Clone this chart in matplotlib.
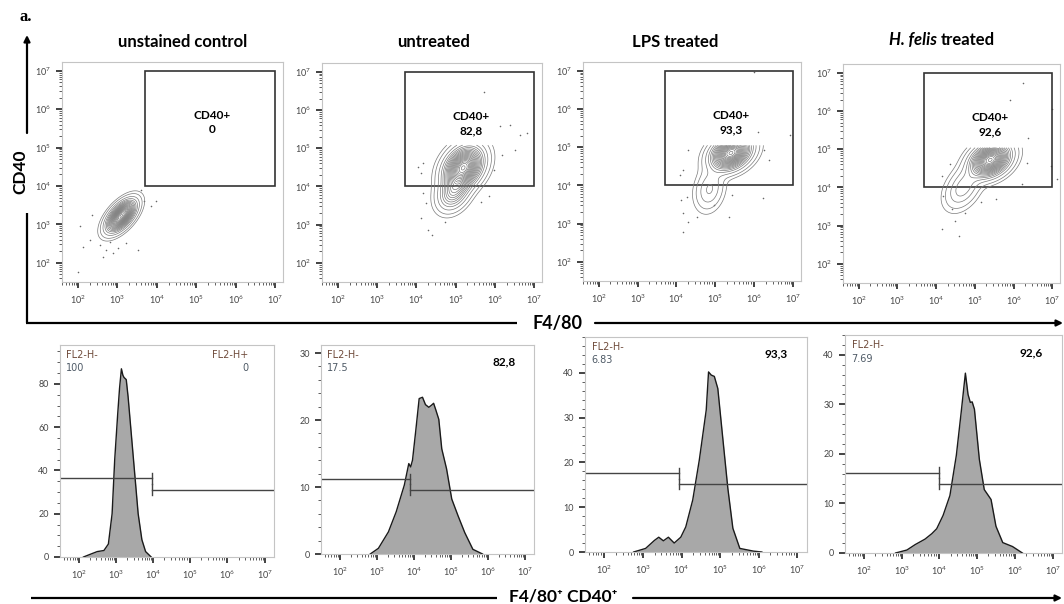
import numpy as np
import matplotlib
matplotlib.use('Agg')
import matplotlib.pyplot as plt
from matplotlib.ticker import LogLocator, MultipleLocator, NullFormatter, LogFormatterMathtext
from matplotlib.patches import Rectangle

plt.rcParams['font.family'] = ['Lato', 'DejaVu Sans']

# ---- data ----
titles = ['unstained control', 'untreated', 'LPS treated', 'H. felis treated']
cd40_pct = ['0', '82,8', '93,3', '92,6']
neg_pct = ['100', '17.5', '6.83', '7.69']

# CD40+ gate on the dot plots (log10 units)
gate_x = [3.7, 7.0]
gate_y = [4.0, 7.0]

# contour populations: (log x, log y, sd x, sd y, rho, weight)
pop_unstained = [(3.1, 3.22, 0.2, 0.22, 0.6, 1.0)]
pop_untreated = [(5.2, 4.5, 0.27, 0.3, 0.3, 1.0), (4.95, 3.85, 0.22, 0.26, 0.3, 0.35)]
pop_lps = [(5.4, 4.85, 0.28, 0.24, 0.3, 1.0), (4.85, 3.9, 0.2, 0.3, 0.2, 0.13)]
pop_felis = [(5.4, 4.72, 0.28, 0.24, 0.3, 1.0), (4.7, 4.0, 0.25, 0.3, 0.4, 0.16)]
pops = [pop_unstained, pop_untreated, pop_lps, pop_felis]
top_cut = [7.2, 5.08, 5.05, 5.04]

# outlying events (log10 x, log10 y)
dots_x = [
    [2.01, 2.05, 2.30, 2.13, 2.64, 2.72, 2.89, 3.02, 3.52, 3.99, 3.86, 3.61, 2.35, 2.56, 2.81, 3.23, 3.69],
    [5.73, 6.12, 6.38, 6.64, 6.82, 6.51, 6.17, 5.99, 4.17, 4.13, 4.17, 4.26, 4.13, 4.30, 4.39, 4.73, 5.86, 5.65, 4.04],
    [6.0, 6.92, 6.39, 6.26, 6.22, 4.31, 4.18, 4.09, 4.26, 4.13, 4.18, 4.31, 4.18, 4.52, 5.35, 5.43, 4.96, 6.09],
    [6.25, 5.9, 7.0, 6.38, 6.34, 6.21, 7.13, 6.96, 4.37, 4.15, 4.19, 4.15, 4.59, 4.41, 4.76, 5.16, 5.55, 4.5],
]
dots_y = [
    [1.77, 2.95, 2.6, 2.42, 2.16, 2.34, 2.25, 2.38, 2.34, 3.6, 3.47, 3.9, 3.25, 2.47, 2.55, 2.51, 3.6],
    [6.48, 5.57, 5.61, 5.35, 5.4, 4.96, 4.83, 4.43, 4.61, 4.35, 3.82, 3.56, 3.17, 2.86, 2.73, 3.08, 3.74, 3.6, 4.52],
    [6.96, 5.32, 4.66, 4.92, 3.66, 4.92, 4.4, 4.27, 3.7, 3.62, 3.27, 3.05, 2.79, 3.18, 3.18, 3.75, 3.48, 5.4],
    [6.72, 6.3, 6.04, 5.3, 4.65, 4.08, 4.21, 4.56, 4.61, 4.3, 3.78, 2.91, 2.73, 3.43, 3.34, 3.61, 3.69, 3.13],
]

# histograms (log10 F4/80, % of max)
hist_lx = [
    [2.13, 2.35, 2.5, 2.68, 2.8, 2.9, 2.97, 3.05, 3.1, 3.15, 3.19, 3.22, 3.28, 3.33, 3.4, 3.5, 3.6, 3.7, 3.8, 3.95],
    [2.83, 3.05, 3.32, 3.53, 3.75, 3.87, 3.92, 3.97, 4.06, 4.15, 4.24, 4.32, 4.41, 4.48, 4.54, 4.6, 4.68, 4.76,
     4.89, 5.03, 5.2, 5.38, 5.6, 5.86],
    [2.76, 3.07, 3.3, 3.41, 3.53, 3.66, 3.81, 3.98, 4.11, 4.29, 4.46, 4.64, 4.70, 4.77, 4.85, 4.94, 5.07, 5.2,
     5.33, 5.51, 5.86, 6.08],
    [2.84, 3.14, 3.36, 3.62, 3.8, 3.93, 4.1, 4.28, 4.45, 4.58, 4.69, 4.76, 4.82, 4.87, 4.93, 5.06, 5.19, 5.37,
     5.5, 5.68, 5.94, 6.2],
]
hist_y = [
    [0, 1.5, 2.5, 3, 6, 20, 45, 66, 78, 87, 84, 83, 82, 74, 60, 40, 20, 8, 2.5, 0],
    [0, 0.85, 3.3, 6.3, 10.3, 13.5, 13, 14, 18.5, 23.2, 23.4, 22.3, 21.9, 22.2, 22.5, 21.5, 20.1, 15.7,
     12.7, 8.2, 5.7, 3.2, 0.7, 0],
    [0, 0.8, 2.6, 3.3, 2.5, 3.3, 2.0, 3.3, 5.6, 11.6, 20.5, 31.7, 40.2, 39.5, 39.2, 36.5, 25.3, 14.2,
     5.3, 0.8, 0.2, 0],
    [0, 0.6, 1.7, 2.8, 3.9, 4.9, 7.6, 11.6, 19.7, 28.5, 36.3, 32.0, 30.4, 30.5, 29.0, 18.9, 12.8, 10.8,
     5.4, 2.1, 1.3, 0],
]
hist_ymax = [98, 31.2, 48, 44]
hist_ymajor = [20, 10, 10, 10]
hist_gate_x = [3.97, 3.9, 3.94, 4.0]
hist_gate_left = [36.3, 11.2, 17.6, 16.2]
hist_gate_right = [31.2, 9.6, 15.2, 14.0]

# ---- layout ----
W, H = 1064, 604
fig = plt.figure(figsize=(W / 100, H / 100), dpi=100)


def box(l, t, r, b):
    return [l / W, 1 - b / H, (r - l) / W, (b - t) / H]


top_boxes = [(62, 62, 283, 282), (322, 63, 542, 282), (583, 62, 801, 281), (843, 64, 1060, 283)]
bot_boxes = [(60, 345, 274, 557), (321, 345, 534, 554), (585, 337, 807, 552), (845, 335, 1062, 553)]
frame_col = '#c4c4c4'


def style_log_axis(axis):
    axis.set_major_locator(LogLocator(base=10, numticks=12))
    axis.set_minor_locator(LogLocator(base=10, subs=np.arange(2, 10), numticks=12))
    axis.set_minor_formatter(NullFormatter())
    axis.set_major_formatter(LogFormatterMathtext())


for i in range(4):
    # ---- dot plot with contours ----
    ax = fig.add_axes(box(*top_boxes[i]))
    ax.set_xscale('log')
    ax.set_yscale('log')
    gx = np.linspace(1.6, 7.2, 320)
    gy = np.linspace(1.5, top_cut[i], 320)
    X, Y = np.meshgrid(gx, gy)
    Z = np.zeros_like(X)
    for (cx, cy, sx, sy, r, w) in pops[i]:
        u = (X - cx) / sx
        v = (Y - cy) / sy
        Z += w * np.exp(-(u * u - 2 * r * u * v + v * v) / (2 * (1 - r * r)))
    Z /= Z.max()
    levels = np.concatenate([[0.012, 0.03], np.linspace(0.07, 0.985, 19)])
    ax.contour(10 ** X, 10 ** Y, Z, levels=levels, colors='#7a7a7a', linewidths=0.5)
    ax.scatter(10 ** np.array(dots_x[i]), 10 ** np.array(dots_y[i]), s=1.3, color='#666666', lw=0)
    ax.add_patch(Rectangle((10 ** gate_x[0], 10 ** gate_y[0]),
                           10 ** gate_x[1] - 10 ** gate_x[0], 10 ** gate_y[1] - 10 ** gate_y[0],
                           fill=False, edgecolor='#333333', lw=1.2))
    ax.text(10 ** 5.4, 10 ** 5.65, 'CD40+\n' + cd40_pct[i], ha='center', va='center',
            fontsize=8.5, fontweight='bold', linespacing=1.4)
    ax.set_xlim(10 ** 1.6, 10 ** 7.2)
    ax.set_ylim(10 ** 1.5, 10 ** 7.23)
    style_log_axis(ax.xaxis)
    style_log_axis(ax.yaxis)
    ax.tick_params(which='major', length=4, width=1.2, color='#222222', labelsize=6.5,
                   labelcolor='#444444', pad=4)
    ax.tick_params(which='minor', length=2, width=0.6, color='#444444')
    for s in ax.spines.values():
        s.set_color(frame_col)
        s.set_linewidth(0.8)

    # ---- histogram ----
    hx = fig.add_axes(box(*bot_boxes[i]))
    hx.set_xscale('log')
    xs = 10 ** np.array(hist_lx[i])
    ys = np.array(hist_y[i])
    hx.fill_between(xs, ys, color='#a8a8a8', lw=0)
    hx.plot(xs, ys, color='#1a1a1a', lw=1)
    ym = hist_ymax[i]
    cap = ym * 0.025
    g = 10 ** hist_gate_x[i]
    hx.plot([10 ** 1.5, g], [hist_gate_left[i]] * 2, color='#444444', lw=1)
    hx.plot([g, g], [hist_gate_left[i] - cap, hist_gate_left[i] + cap], color='#444444', lw=1)
    hx.plot([g, 10 ** 7.3], [hist_gate_right[i]] * 2, color='#444444', lw=1)
    hx.plot([g, g], [hist_gate_right[i] - cap, hist_gate_right[i] + cap], color='#444444', lw=1)
    hx.text(0.03, 0.975, 'FL2-H-', transform=hx.transAxes, ha='left', va='top',
            fontsize=7, color='#6e4a3a', family=['DejaVu Sans'])
    hx.text(0.03, 0.915, neg_pct[i], transform=hx.transAxes, ha='left', va='top',
            fontsize=7, color='#4e5a66', family=['DejaVu Sans'])
    if i == 0:
        hx.text(0.88, 0.975, 'FL2-H+', transform=hx.transAxes, ha='right', va='top',
                fontsize=7, color='#6e4a3a', family=['DejaVu Sans'])
        hx.text(0.88, 0.915, cd40_pct[i], transform=hx.transAxes, ha='right', va='top',
                fontsize=7, color='#4e5a66', family=['DejaVu Sans'])
    else:
        hx.text(0.86, 0.92, cd40_pct[i], transform=hx.transAxes, ha='center', va='center',
                fontsize=8.5, fontweight='bold')
    hx.set_xlim(10 ** 1.5, 10 ** 7.25)
    hx.set_ylim(0, ym)
    style_log_axis(hx.xaxis)
    hx.yaxis.set_major_locator(MultipleLocator(hist_ymajor[i]))
    hx.yaxis.set_minor_locator(MultipleLocator(hist_ymajor[i] / 5 if i else 5))
    hx.tick_params(which='major', length=4, width=1.2, color='#222222', labelsize=6.5,
                   labelcolor='#444444', pad=4)
    hx.tick_params(which='minor', length=2, width=0.6, color='#444444')
    for s in hx.spines.values():
        s.set_color(frame_col)
        s.set_linewidth(0.8)

# ---- overlay: titles and axis arrows ----
ov = fig.add_axes([0, 0, 1, 1])
ov.set_xlim(0, W)
ov.set_ylim(H, 0)
ov.axis('off')
ov.patch.set_alpha(0)

ov.text(26, 17, 'a.', fontsize=12, fontweight='bold', family=['Liberation Serif'],
        ha='center', va='center')
title_x = [183, 434, 675]
for t, x in zip(titles[:3], title_x):
    ov.text(x, 42, t, fontsize=12, fontweight='bold', ha='center', va='center')
ov.text(937, 40, 'H. felis', fontsize=12, fontweight='bold', style='italic', ha='right', va='center')
ov.text(941, 40, 'treated', fontsize=12, fontweight='bold', ha='left', va='center')

arrow = dict(arrowstyle='-|>', lw=1.6, color='black', mutation_scale=9, shrinkA=0, shrinkB=0)
# CD40 axis
ov.plot([27, 27], [213, 323], color='black', lw=1.6, solid_capstyle='butt')
ov.annotate('', xy=(27, 35), xytext=(27, 133), arrowprops=arrow)
ov.text(20, 172, 'CD40', rotation=90, fontsize=12.5, fontweight='bold', ha='center', va='center')
# F4/80 axis
ov.plot([26.2, 517], [323, 323], color='black', lw=1.6, solid_capstyle='butt')
ov.annotate('', xy=(1063, 323), xytext=(595, 323), arrowprops=arrow)
ov.text(557, 323, 'F4/80', fontsize=13, fontweight='bold', ha='center', va='center')
# F4/80+ CD40+ axis
ov.plot([31, 497], [598, 598], color='black', lw=1.6, solid_capstyle='butt')
ov.annotate('', xy=(1062, 598), xytext=(633, 598), arrowprops=arrow)
ov.text(563, 597, 'F4/80\u207a CD40\u207a', fontsize=12.5, fontweight='bold', ha='center', va='center',
        family=['Lato', 'DejaVu Sans'])

fig.savefig('out.png', dpi=100)
